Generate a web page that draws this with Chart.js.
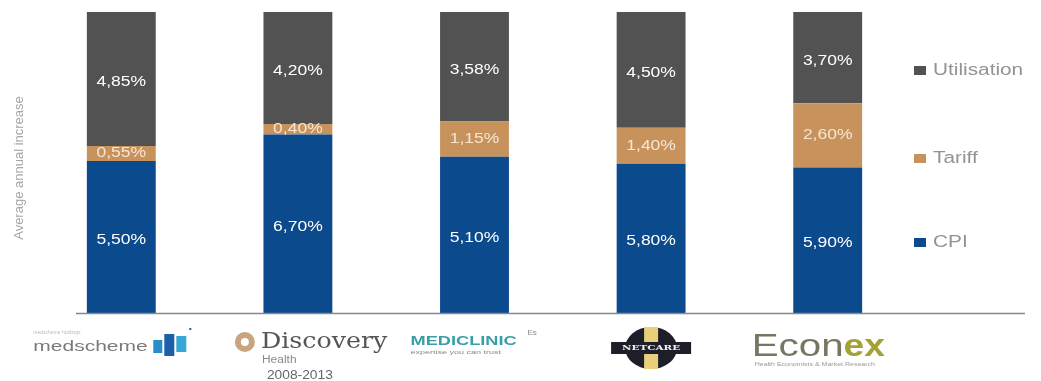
<!DOCTYPE html>
<html>
<head>
<meta charset="utf-8">
<script src="https://cdn.jsdelivr.net/npm/chart.js@4/dist/chart.umd.min.js"></script>
<style>
	html, body { margin: 0; padding: 0; background: #ffffff; }
	#wrap { width: 1041px; height: 381px; position: relative; }
</style>
</head>
<body>
<div id="wrap"><canvas id="cost"></canvas></div>
<script>
//Chart data
var schemes = ['Medscheme', 'Discovery Health', 'Mediclinic', 'Netcare', 'Econex'];
var cpi = [5.50, 6.70, 5.10, 5.80, 5.90];
var tariff = [0.55, 0.40, 1.15, 1.40, 2.60];
var utilisation = [4.85, 4.20, 3.58, 4.50, 3.70];
var seriesNames = ['CPI', 'Tariff', 'Utilisation'];
var seriesColours = ['#0b4a8c', '#c8925c', '#525252'];

//Each bar is drawn as share of its own total (bars all reach the top)
function share(values, i) {
	var total = cpi[i] + tariff[i] + utilisation[i];
	return values[i] / total * 100;
}

function makeSet(values, n) {
	var d = [];
	for (var i = 0; i < values.length; i++) {
		d.push(share(values, i));
	}
	return {
		label: seriesNames[n],
		data: d,
		raw: values,
		backgroundColor: seriesColours[n],
		borderWidth: 0,
		barPercentage: 0.39,
		categoryPercentage: 1
	};
}

function fmt(v) {
	return v.toFixed(2).replace('.', ',') + '%';
}

//the picture is stretched sideways, so text is too
function wideText(ctx, text, x, y, sx) {
	ctx.save();
	ctx.translate(x, y);
	ctx.scale(sx, 1);
	ctx.fillText(text, 0, 0);
	ctx.restore();
}

//Values written inside the segments
var valueLabels = {
	id: 'valueLabels',
	afterDatasetsDraw: function(chart) {
		var ctx = chart.ctx;
		ctx.save();
		ctx.font = '14px "Liberation Sans", Arial, sans-serif';
		ctx.textAlign = 'center';
		ctx.textBaseline = 'middle';
		chart.data.datasets.forEach(function(ds, n) {
			chart.getDatasetMeta(n).data.forEach(function(bar, i) {
				ctx.fillStyle = n == 1 ? '#f6e6d2' : '#ffffff';
				var y = (bar.y + bar.base) / 2;
				if (n == 2) y += 3;
				if (n == 0) y += 3;
				wideText(ctx, fmt(ds.raw[i]), bar.x, y, 1.25);
			});
		});
		ctx.restore();
	}
};

//Axis line, legend, y title and the scheme names under the bars
var decorations = {
	id: 'decorations',
	afterDraw: function(chart) {
		var ctx = chart.ctx;
		var area = chart.chartArea;
		var x = chart.scales.x;
		ctx.save();

		ctx.strokeStyle = '#7f8c98';
		ctx.lineWidth = 1.5;
		ctx.beginPath();
		ctx.moveTo(76, area.bottom + 0.5);
		ctx.lineTo(1025, area.bottom + 0.5);
		ctx.stroke();

		//y title
		ctx.save();
		ctx.translate(19, 168);
		ctx.rotate(-Math.PI / 2);
		ctx.font = '13px "Liberation Sans", Arial, sans-serif';
		ctx.fillStyle = '#a6a6a6';
		ctx.textAlign = 'center';
		ctx.textBaseline = 'middle';
		ctx.fillText('Average annual increase', 0, 0);
		ctx.restore();

		//legend
		var legendY = [242, 158, 70];
		ctx.font = '16px "Liberation Sans", Arial, sans-serif';
		ctx.textBaseline = 'middle';
		ctx.textAlign = 'left';
		chart.data.datasets.forEach(function(ds, n) {
			ctx.fillStyle = ds.backgroundColor;
			ctx.fillRect(914, legendY[n] - 4, 12, 9);
			ctx.fillStyle = '#939393';
			wideText(ctx, ds.label, 933, legendY[n] + 1, 1.3);
		});

		//scheme names
		var c0 = x.getPixelForValue(0);
		ctx.font = '15px "Liberation Sans", Arial, sans-serif';
		ctx.fillStyle = '#7a7a7a';
		ctx.textAlign = 'left';
		wideText(ctx, 'medscheme', c0 - 88, 347, 1.4);
		ctx.fillStyle = '#2a8fc8';
		ctx.fillRect(c0 + 32, 340, 9, 13);
		ctx.fillStyle = '#1d5fa8';
		ctx.fillRect(c0 + 43, 334, 10, 22);
		ctx.fillStyle = '#39a7d6';
		ctx.fillRect(c0 + 55, 336, 10, 16);
		ctx.fillStyle = '#bbbbbb';
		ctx.font = '5px "Liberation Sans", Arial, sans-serif';
		ctx.fillText('medscheme holdings', c0 - 88, 333);
		ctx.fillStyle = '#1d5fa8';
		ctx.fillRect(c0 + 68, 328, 2, 2);

		var c1 = x.getPixelForValue(1);
		ctx.fillStyle = '#c9a57f';
		ctx.beginPath();
		ctx.arc(c1 - 53, 342, 10, 0, Math.PI * 2);
		ctx.fill();
		ctx.fillStyle = '#ffffff';
		ctx.beginPath();
		ctx.arc(c1 - 53, 342, 4, 0, Math.PI * 2);
		ctx.fill();
		ctx.fillStyle = '#555555';
		ctx.font = '22px "DejaVu Serif", serif';
		wideText(ctx, 'Discovery', c1 - 37, 342, 1.15);
		ctx.font = '10px "Liberation Sans", Arial, sans-serif';
		ctx.fillStyle = '#8a8a8a';
		wideText(ctx, 'Health', c1 - 36, 360, 1.2);
		ctx.font = '12px "Liberation Sans", Arial, sans-serif';
		ctx.fillStyle = '#666666';
		ctx.textAlign = 'center';
		wideText(ctx, '2008-2013', c1 + 2, 376, 1.15);

		var c2 = x.getPixelForValue(2);
		ctx.font = 'bold 13px "Liberation Sans", Arial, sans-serif';
		ctx.fillStyle = '#3a9ea8';
		ctx.textAlign = 'left';
		wideText(ctx, 'MEDICLINIC', c2 - 64, 341, 1.4);
		ctx.font = '6px "Liberation Sans", Arial, sans-serif';
		ctx.fillStyle = '#888888';
		wideText(ctx, 'expertise you can trust', c2 - 64, 352, 1.5);
		ctx.font = '8px "Liberation Sans", Arial, sans-serif';
		ctx.fillText('Es', c2 + 53, 333);

		var c3 = x.getPixelForValue(3);
		ctx.fillStyle = '#1e1e2a';
		ctx.beginPath();
		ctx.ellipse(c3, 348, 26, 21, 0, 0, Math.PI * 2);
		ctx.fill();
		ctx.fillStyle = '#e8cf7a';
		ctx.fillRect(c3 - 7, 327, 14, 42);
		ctx.fillRect(c3 - 26, 343, 52, 10);
		ctx.fillStyle = '#1e1e2a';
		ctx.fillRect(c3 - 40, 342, 80, 12);
		ctx.font = 'bold 8px "DejaVu Serif", serif';
		ctx.fillStyle = '#f0f0f0';
		ctx.textAlign = 'center';
		wideText(ctx, 'NETCARE', c3, 348, 1.3);

		var c4 = x.getPixelForValue(4);
		ctx.font = '31px "Liberation Sans", Arial, sans-serif';
		ctx.textAlign = 'left';
		ctx.fillStyle = '#767662';
		var w = ctx.measureText('Econ').width * 1.3;
		wideText(ctx, 'Econ', c4 - 76, 347, 1.3);
		ctx.fillStyle = '#a3a232';
		ctx.font = 'bold 31px "Liberation Sans", Arial, sans-serif';
		wideText(ctx, 'ex', c4 - 76 + w, 347, 1.2);
		ctx.font = '5px "Liberation Sans", Arial, sans-serif';
		ctx.fillStyle = '#999999';
		wideText(ctx, 'Health Economists & Market Research', c4 - 73, 365, 1.4);

		ctx.restore();
	}
};

var costchart = new Chart(document.getElementById('cost'), {
	type: 'bar',
	data: {
		labels: schemes,
		datasets: [makeSet(cpi, 0), makeSet(tariff, 1), makeSet(utilisation, 2)]
	},
	options: {
		responsive: true,
		maintainAspectRatio: false,
		animation: false,
		layout: {
			padding: { left: 33, right: 125, top: 12, bottom: 68 }
		},
		scales: {
			x: { stacked: true, display: false },
			y: { stacked: true, display: false, min: 0, max: 100 }
		},
		plugins: {
			legend: { display: false },
			tooltip: { enabled: false }
		}
	},
	plugins: [valueLabels, decorations]
});
</script>
</body>
</html>
